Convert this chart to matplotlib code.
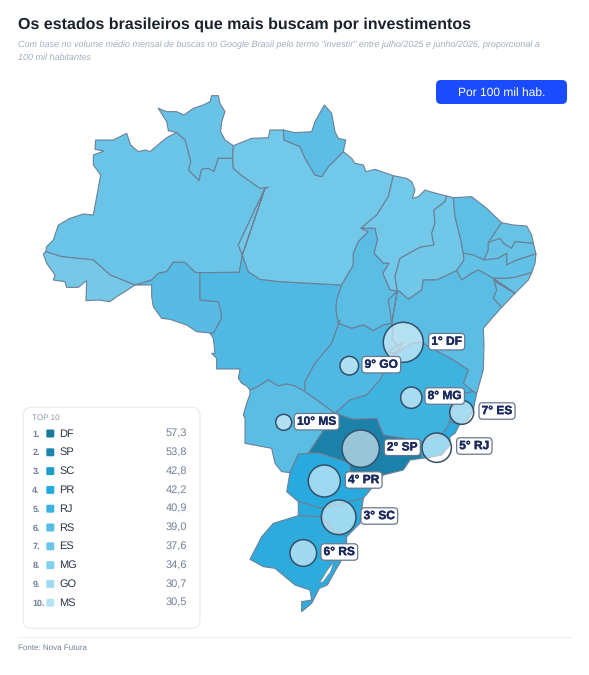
import matplotlib
matplotlib.use("Agg")
import matplotlib.pyplot as plt
from matplotlib.patches import Polygon, Circle, FancyBboxPatch
import matplotlib.patheffects as pe

plt.rcParams['font.family'] = ['Liberation Sans', 'DejaVu Sans']
plt.rcParams['text.hinting'] = 'no_hinting'
plt.rcParams['text.hinting_factor'] = 1

# ---------- data ----------
ranks = ['DF', 'SP', 'SC', 'PR', 'RJ', 'RS', 'ES', 'MG', 'GO', 'MS']
values = [57.3, 53.8, 42.8, 42.2, 40.9, 39.0, 37.6, 34.6, 30.7, 30.5]
legend_colors = ['#1A7A9E', '#1A86AE', '#1F9CCB', '#24AADF', '#3CB2E2',
                 '#54BCE6', '#6BC6E8', '#82D0EC', '#9FDAF0', '#B5E3F3']
state_colors = {
    'AC': '#76C8E9', 'AM': '#69C4E7', 'RR': '#68C3E7', 'RO': '#57BBE3', 'PA': '#72C8E9',
    'AP': '#5CBEE4', 'MT': '#50B9E3', 'TO': '#5BBDE4', 'MA': '#72C8E9', 'PI': '#70C7E8',
    'CE': '#5EBFE5', 'RN': '#66C3E6', 'PB': '#66C3E6', 'PE': '#62C1E6', 'AL': '#66C3E6',
    'SE': '#60BFE5', 'BA': '#5BBDE4', 'GO': '#50B9E3', 'DF': '#50B9E3', 'MG': '#3FB3E0',
    'ES': '#3EB3E0', 'RJ': '#2BABDE', 'SP': '#1C81A9', 'MS': '#5ABDE4', 'PR': '#29AADE',
    'SC': '#2AABDE', 'RS': '#2DABDD',
}
circle_centers = [(403.3, 342.3), (360.7, 448.7), (338.7, 517.3), (324.3, 481.0), (436.7, 447.7),
                  (303.3, 553.0), (461.7, 412.3), (411.3, 397.7), (349.3, 365.7), (283.7, 422.3)]
label_centers = [(446.7, 341.7), (402.3, 447.3), (379.3, 516.0), (363.7, 480.0), (474.3, 446.0),
                 (339.3, 552.0), (497.0, 411.0), (444.7, 396.0), (381.3, 364.7), (316.7, 421.7)]

def tr(ox, oy):
    return lambda pts: [(ox + x / 3, oy + y / 3) for x, y in pts]
z3, z4, z5, z6, z7, z8 = tr(240, 310), tr(30, 90), tr(280, 90), tr(195, 300), tr(400, 370), tr(370, 310)
rev = lambda c: c[::-1]

RR_N = z4([(440,128),(415,122),(410,95),(385,55),(410,65),(440,65),(462,75),(490,55),(520,45),(540,35),(545,17),(565,17),(570,40),(585,65),(575,95),(572,125),(585,150),(610,167)])
RR_PA = z4([(610,167),(608,205)])
RR_AM = z4([(608,205),(565,205),(552,245),(535,235),(515,238),(507,272),(475,240),(482,215),(465,150),(440,128)])
AM_N = z4([(440,128),(415,140),(395,155),(360,185),(345,180),(325,185),(302,165),(290,130),(260,145),(250,150),(197,150),(195,178),(222,183),(190,195),(190,225),(212,255),(190,375),(160,372),(120,385),(85,405),(70,450),(50,470),(47,485)])
AC_AM = z4([(47,485),(95,500),(190,510),(240,555),(315,585)])
AC_S = z4([(315,585),(285,605),(260,620),(240,635),(205,630),(168,632),(170,572),(145,592),(110,592),(105,575),(70,570),(75,555),(50,520),(40,492),(47,485)])
AM_RO = z4([(315,585),(365,570),(385,550),(410,545),(430,517),(465,517),(495,547),(510,548)])
AM_MT = z4([(510,548),(628,547),(637,495)])
AM_PA = z4([(637,495),(625,465),(705,295)])
PA_AM2 = z4([(705,295),(715,292),(690,295),(640,260),(610,235),(608,205)])
RO_MT = z4([(510,548),(510,630),(565,635),(572,660),(575,685),(550,730)])
RO_S = z4([(550,730),(500,725),(470,705),(420,688),(395,685),(370,650),(365,620),(365,585),(315,585)])
MT_PA = z4([(637,495),(655,545),(690,568)]) + z5([(0,575),(185,585)])
MT_TO = z5([(185,585),(170,630),(168,660),(175,700)])
MT_GO = z5([(175,700)]) + z3([(300,30),(275,100),(225,160),(195,215),(195,245)])
MT_MS = z3([(195,245),(165,228),(140,222),(115,228),(85,210),(50,232),(30,240)])
MT_W = z6([(165,270),(155,258),(140,250),(130,235),(135,207),(65,207),(65,175),(50,160),(60,160),(55,115),(45,100)])
PA_N = z4([(610,167),(640,155),(665,145),(715,143),(720,120),(760,120)])
PA_AP = z5([(10,120),(12,150),(60,170),(75,205),(105,255),(125,260),(145,230),(190,185)])
AP_N = z5([(190,185),(197,150),(175,145),(165,125),(155,70),(133,45),(105,95),(95,125),(45,128),(10,120)])
PA_C = z5([(190,185),(215,205),(225,220),(250,225),(258,245),(285,238),(340,257)])
PA_MA = z5([(340,257),(325,320),(290,375),(243,415)])
PA_TO = z5([(243,415),(265,425),(235,455),(220,490),(220,525),(185,585)])
MA_N = z5([(340,257),(380,265),(395,275),(405,300),(397,325),(415,320),(435,300),(450,305),(500,318)])
MA_PI = z5([(500,318),(495,335),(462,360),(465,400),(455,430),(462,465),(420,472),(360,505),(345,560),(352,603)])
MA_TO = z5([(352,603),(330,600),(308,550),(327,520),(310,520),(282,490),(292,450),(285,415),(243,415)])
TO_GO = z5([(175,700),(215,715),(250,705),(280,722),(310,705),(335,700)])
TO_BA = z5([(335,700),(330,660),(325,630),(352,603)])
PI_C = z5([(500,318),(520,323)])
PI_CE = z5([(520,323),(525,380),(540,440),(550,490)])
PI_PE = z5([(550,490),(552,510),(530,542)])
PI_BA = z5([(530,542),(470,570),(430,570),(425,600),(385,628),(360,605),(352,603)])
CE_N = z5([(520,323),(575,320),(620,355),(665,398)])
CE_RN = z5([(665,398),(625,458)])
CE_PB = z5([(625,458),(625,480),(612,510)])
CE_PE = z5([(612,510),(580,495),(550,490)])
RN_N = z5([(665,398),(700,405),(740,408),(755,435),(760,460)])
RN_PB = z5([(760,460),(705,455),(695,475),(670,460),(660,445),(625,458)])
PB_PE = z5([(612,510),(655,505),(680,490),(680,525),(710,510),(768,492)])
PB_E = z5([(768,492),(760,460)])
PE_E = z5([(768,492),(765,520),(755,548)])
PE_AL = z5([(755,548),(705,562),(680,565),(640,565)])
BA_PE = z5([(640,565),(595,540),(575,550),(545,570),(530,542)])
AL_E = z5([(755,548),(745,570),(705,610)])
AL_SE = z5([(705,610),(650,578),(640,565)])
BA_SE = z5([(640,565),(650,600),(640,625),(665,652)])
SE_E = z5([(665,652),(705,610)])
BA_C = z5([(665,652),(640,680),(610,715),(612,760)]) + z3([(730,180)]) + z7([(230,70),(220,65)])
BA_MG = z7([(220,65),(190,40),(205,0)]) + z3([(640,150),(565,110)]) + z8([(155,97),(125,100),(75,132)])
BA_GO = z8([(75,132),(85,110),(65,85),(70,70),(65,40)])
GO_MG = z8([(75,132)]) + z3([(435,180),(420,210),(380,255),(330,270),(285,310)])
GO_MS = z3([(285,310),(230,270),(195,245)])
MS_SP = z3([(285,310),(250,362),(205,430)])
MS_PR = z3([(205,430),(175,432),(150,488)])
MS_W = z3([(150,488),(125,485),(105,460),(95,415),(15,400),(15,325),(10,315),(20,280),(30,253),(30,240)])
SP_MG = z3([(285,310),(340,328),(410,325),(430,375),(490,385)]) + z7([(60,230)])
SP_RJ = z7([(60,230),(65,265)])
SP_C = z7([(65,265),(30,270)]) + z3([(490,480),(430,495)])
SP_PR = z3([(430,495),(385,495),(330,490),(330,460),(240,430),(205,430)])
MG_ES = z7([(220,65),(195,70),(170,95),(150,125),(150,155)])
MG_RJ = z7([(150,155),(140,175),(120,195),(65,215),(60,230)])
ES_E = z7([(220,65),(230,70),(220,120),(205,150),(178,165),(150,155)])
RJ_C = z7([(150,155),(178,165),(165,190),(150,200),(150,225),(125,255),(90,262),(65,265)])
PR_C = z3([(430,495),(395,535),(370,565)])
PR_SC = z3([(370,565),(330,575),(245,595),(175,575)])
PR_W = z3([(175,575),(140,545),(150,488)])
SC_W = z3([(175,575),(175,617)])
SC_RS = z3([(175,617),(245,620),(290,670),(320,680)])
SC_E = z3([(320,680),(360,640),(370,565)])
RS_C = z3([(320,680),(320,700),(305,750),(290,775),(262,825),(238,835),(215,880),(185,905),(185,875),(215,870),(210,840),(165,825),(105,775),(70,770),(30,748),(65,680),(100,640),(175,617)])
DF_POLY = z8([(55,125),(100,97),(85,120),(70,130)])
LAGOON = z3([(238,820),(262,780),(282,755),(272,785),(250,815)])

states = {
    'RR': RR_N + RR_PA + RR_AM,
    'AM': AM_N + AC_AM + AM_RO + AM_MT + AM_PA + PA_AM2 + RR_AM,
    'AC': AC_AM + AC_S,
    'RO': AM_RO + RO_MT + RO_S,
    'MT': AM_MT + MT_PA + MT_TO + MT_GO + MT_MS + MT_W + rev(RO_MT),
    'PA': PA_N + PA_AP + PA_C + PA_MA + PA_TO + rev(MT_PA) + rev(AM_PA) + PA_AM2 + rev(RR_PA),
    'AP': PA_AP + AP_N,
    'MA': MA_N + MA_PI + MA_TO + rev(PA_MA),
    'TO': PA_TO + MT_TO + TO_GO + TO_BA + MA_TO,
    'PI': PI_C + PI_CE + PI_PE + PI_BA + rev(MA_PI),
    'CE': CE_N + CE_RN + CE_PB + CE_PE + rev(PI_CE),
    'RN': RN_N + RN_PB + rev(CE_RN),
    'PB': rev(RN_PB) + rev(PB_E) + rev(PB_PE) + rev(CE_PB),
    'PE': rev(CE_PE) + PB_PE + PE_E + PE_AL + BA_PE + rev(PI_PE),
    'AL': AL_E + AL_SE + rev(PE_AL),
    'SE': rev(AL_SE) + BA_SE + SE_E,
    'BA': rev(PI_BA) + rev(BA_PE) + BA_SE + BA_C + BA_MG + BA_GO + rev(TO_BA),
    'GO': TO_GO + rev(BA_GO) + GO_MG + GO_MS + rev(MT_GO),
    'MS': rev(GO_MS) + MS_SP + MS_PR + MS_W + rev(MT_MS),
    'MG': rev(BA_MG) + MG_ES + MG_RJ + rev(SP_MG) + rev(GO_MG),
    'ES': ES_E + rev(MG_ES),
    'RJ': RJ_C + rev(SP_RJ) + rev(MG_RJ),
    'SP': rev(MS_SP) + SP_MG + SP_RJ + SP_C + SP_PR[1:],
    'PR': rev(SP_PR) + PR_C + PR_SC + PR_W + rev(MS_PR),
    'SC': PR_SC + SC_W + SC_RS + SC_E,
    'RS': SC_RS + RS_C,
    'DF': DF_POLY,
}

# ---------- figure ----------
fig = plt.figure(figsize=(5.89, 6.75), dpi=100, facecolor='white')
ax = fig.add_axes([0, 0, 1, 1])
ax.set_xlim(0, 589)
ax.set_ylim(675, 0)
ax.axis('off')

ax.text(18, 25, 'Os estados brasileiros que mais buscam por investimentos', fontsize=11.2,
        fontweight='bold', color='#1A202C', va='center', ha='left')
ax.text(18, 45, 'Com base no volume médio mensal de buscas no Google Brasil pelo termo "investir" entre julho/2025 e junho/2026, proporcional a',
        fontsize=6.8, style='italic', color='#A0AEC0', va='center', ha='left')
ax.text(18, 57.7, '100 mil habitantes', fontsize=6.8, style='italic', color='#A0AEC0', va='center', ha='left')

ax.add_patch(FancyBboxPatch((436, 80), 131, 24, boxstyle='round,pad=0,rounding_size=5',
                            fc='#1A4BFF', ec='none', zorder=2))
ax.text(501.5, 92.6, 'Por 100 mil hab.', fontsize=8.8, color='white', ha='center', va='center', zorder=3)

# map
for name, poly in states.items():
    ax.add_patch(Polygon(poly, closed=True, fc=state_colors[name], ec='#6C8096', lw=0.8,
                         joinstyle='round', zorder=3))
ax.add_patch(Polygon(LAGOON, closed=True, fc='white', ec='#6C8096', lw=0.5, zorder=3))

# bubbles and labels (radius follows the rank)
for i, (st, (cx, cy), (lx, ly)) in enumerate(zip(ranks, circle_centers, label_centers)):
    r = 20 - i * 12 / 9
    ax.add_patch(Circle((cx, cy), r, fc=(1, 1, 1, 0.55), ec='#33506B', lw=1.1, zorder=4))
    ax.text(lx, ly, f'{i + 1}° {st}', fontsize=8.6, fontweight='bold', color='#1A2A5E',
            ha='center', va='center', zorder=6,
            path_effects=[pe.withStroke(linewidth=0.25, foreground='#1A2A5E')],
            bbox=dict(boxstyle='round,pad=0.22,rounding_size=0.3', fc='white', ec='#66788F', lw=0.9))

# ranking panel
ax.add_patch(FancyBboxPatch((23.3, 407.3), 176.7, 221, boxstyle='round,pad=0,rounding_size=8',
                            fc='white', ec='#E8EDF3', lw=0.9, zorder=7))
ax.text(32.5, 418, 'TOP 10', fontsize=6, color='#8A99AD', ha='left', va='center', zorder=8)
for i, (st, val, col) in enumerate(zip(ranks, values, legend_colors)):
    y = 433.7 + i * 18.8
    ax.text(32.3, y + 0.5, f'{i + 1}.', fontsize=6.6, fontweight='bold', color='#718096', ha='left', va='center', zorder=8)
    ax.add_patch(FancyBboxPatch((46.3, y - 4.2), 8, 8, boxstyle='round,pad=0,rounding_size=1.3',
                                fc=col, ec='none', zorder=8))
    ax.text(59, y, st, fontsize=7.9, color='#2D3748', ha='left', va='center', zorder=8)
    ax.text(187, y + 0.2, f'{val:.1f}'.replace('.', ','), fontsize=7.6, color='#718096', ha='right', va='center', zorder=8)

ax.plot([18, 572], [636.7, 636.7], color='#EEF1F5', lw=0.9, zorder=1)
ax.text(18, 648, 'Fonte: Nova Futura', fontsize=6, color='#718096', ha='left', va='center')

fig.savefig('out.png', dpi=100, facecolor='white')
